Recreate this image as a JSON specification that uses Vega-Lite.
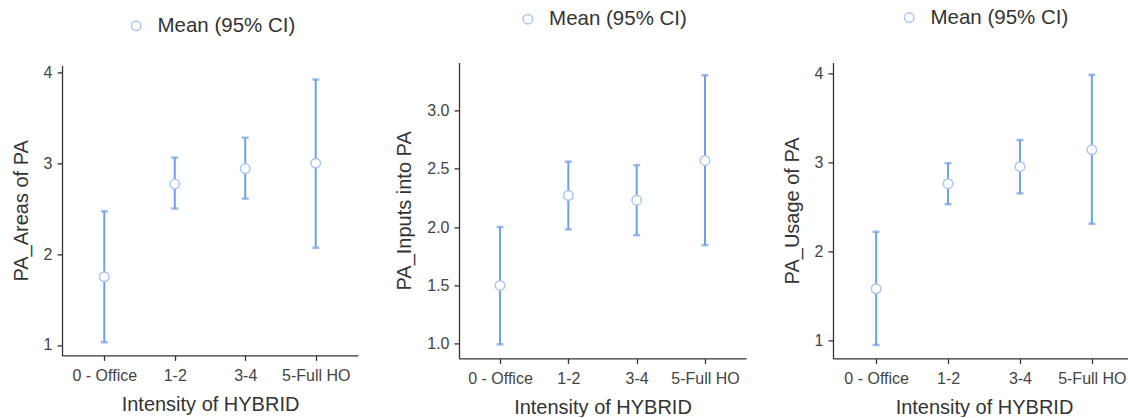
{
  "$schema": "https://vega.github.io/schema/vega-lite/v6.json",
  "background": "white",
  "padding": {"left": 11, "top": 6.4, "right": 0, "bottom": 0},
  "datasets": {
    "areas": [
      {"cat": "0 - Office", "mean": 1.75, "low": 1.03, "high": 2.47},
      {"cat": "1-2", "mean": 2.77, "low": 2.50, "high": 3.06},
      {"cat": "3-4", "mean": 2.94, "low": 2.61, "high": 3.28},
      {"cat": "5-Full HO", "mean": 3.00, "low": 2.07, "high": 3.92}
    ],
    "inputs": [
      {"cat": "0 - Office", "mean": 1.50, "low": 0.995, "high": 2.00},
      {"cat": "1-2", "mean": 2.27, "low": 1.98, "high": 2.56},
      {"cat": "3-4", "mean": 2.23, "low": 1.93, "high": 2.53},
      {"cat": "5-Full HO", "mean": 2.57, "low": 1.845, "high": 3.30}
    ],
    "usage": [
      {"cat": "0 - Office", "mean": 1.58, "low": 0.95, "high": 2.22},
      {"cat": "1-2", "mean": 2.76, "low": 2.53, "high": 2.99},
      {"cat": "3-4", "mean": 2.95, "low": 2.65, "high": 3.25},
      {"cat": "5-Full HO", "mean": 3.14, "low": 2.31, "high": 3.98}
    ]
  },
  "spacing": 36,
  "center": true,
  "hconcat": [
    {
      "width": 296, "height": 290,
      "data": {"name": "areas"},
      "encoding": {
        "x": {"field": "cat", "type": "nominal", "sort": ["0 - Office", "1-2", "3-4", "5-Full HO"], "scale": {"type": "point", "padding": 0.6}, "axis": {"title": "Intensity of HYBRID", "labelAngle": 0}}
      },
      "layer": [
        {"mark": {"type": "rule", "color": "#6fa0e6", "strokeWidth": 2},
         "encoding": {"y": {"field": "low", "type": "quantitative", "title": "PA_Areas of PA", "scale": {"domain": [0.885, 4.075], "nice": false, "zero": false}, "axis": {"values": [1, 2, 3, 4], "format": "d"}}, "y2": {"field": "high"}}},
        {"mark": {"type": "tick", "color": "#6fa0e6", "size": 7, "thickness": 2.5},
         "encoding": {"y": {"field": "low", "type": "quantitative", "title": "PA_Areas of PA"}}},
        {"mark": {"type": "tick", "color": "#6fa0e6", "size": 7, "thickness": 2.5},
         "encoding": {"y": {"field": "high", "type": "quantitative", "title": "PA_Areas of PA"}}},
        {"mark": {"type": "point", "shape": "circle", "filled": false, "fill": "white", "fillOpacity": 1, "opacity": 1, "strokeWidth": 1.5, "size": 90},
         "encoding": {"y": {"field": "mean", "type": "quantitative", "title": "PA_Areas of PA"},
           "stroke": {"datum": "Mean (95% CI)", "type": "nominal", "scale": {"range": ["#a9c6f2"]},
             "legend": {"orient": "none", "legendX": 64, "legendY": -49.8, "title": null}}}}
      ]
    },
    {
      "width": 287, "height": 296,
      "data": {"name": "inputs"},
      "encoding": {
        "x": {"field": "cat", "type": "nominal", "sort": ["0 - Office", "1-2", "3-4", "5-Full HO"], "scale": {"type": "point", "padding": 0.6}, "axis": {"title": "Intensity of HYBRID", "labelAngle": 0}}
      },
      "layer": [
        {"mark": {"type": "rule", "color": "#6fa0e6", "strokeWidth": 2},
         "encoding": {"y": {"field": "low", "type": "quantitative", "title": "PA_Inputs into PA", "scale": {"domain": [0.875, 3.41], "nice": false, "zero": false}, "axis": {"values": [1, 1.5, 2, 2.5, 3], "format": ".1f"}}, "y2": {"field": "high"}}},
        {"mark": {"type": "tick", "color": "#6fa0e6", "size": 7, "thickness": 2.5},
         "encoding": {"y": {"field": "low", "type": "quantitative", "title": "PA_Inputs into PA"}}},
        {"mark": {"type": "tick", "color": "#6fa0e6", "size": 7, "thickness": 2.5},
         "encoding": {"y": {"field": "high", "type": "quantitative", "title": "PA_Inputs into PA"}}},
        {"mark": {"type": "point", "shape": "circle", "filled": false, "fill": "white", "fillOpacity": 1, "opacity": 1, "strokeWidth": 1.5, "size": 90},
         "encoding": {"y": {"field": "mean", "type": "quantitative", "title": "PA_Inputs into PA"},
           "stroke": {"datum": "Mean (95% CI)", "type": "nominal", "scale": {"range": ["#a9c6f2"]},
             "legend": {"orient": "none", "legendX": 58.6, "legendY": -53.5, "title": null}}}}
      ]
    },
    {
      "width": 302, "height": 296,
      "data": {"name": "usage"},
      "encoding": {
        "x": {"field": "cat", "type": "nominal", "sort": ["0 - Office", "1-2", "3-4", "5-Full HO"], "scale": {"type": "point", "padding": 0.6}, "axis": {"title": "Intensity of HYBRID", "labelAngle": 0}}
      },
      "layer": [
        {"mark": {"type": "rule", "color": "#6fa0e6", "strokeWidth": 2},
         "encoding": {"y": {"field": "low", "type": "quantitative", "title": "PA_Usage of PA", "scale": {"domain": [0.80, 4.12], "nice": false, "zero": false}, "axis": {"values": [1, 2, 3, 4], "format": "d"}}, "y2": {"field": "high"}}},
        {"mark": {"type": "tick", "color": "#6fa0e6", "size": 7, "thickness": 2.5},
         "encoding": {"y": {"field": "low", "type": "quantitative", "title": "PA_Usage of PA"}}},
        {"mark": {"type": "tick", "color": "#6fa0e6", "size": 7, "thickness": 2.5},
         "encoding": {"y": {"field": "high", "type": "quantitative", "title": "PA_Usage of PA"}}},
        {"mark": {"type": "point", "shape": "circle", "filled": false, "fill": "white", "fillOpacity": 1, "opacity": 1, "strokeWidth": 1.5, "size": 90},
         "encoding": {"y": {"field": "mean", "type": "quantitative", "title": "PA_Usage of PA"},
           "stroke": {"datum": "Mean (95% CI)", "type": "nominal", "scale": {"range": ["#a9c6f2"]},
             "legend": {"orient": "none", "legendX": 66, "legendY": -55.1, "title": null}}}}
      ]
    }
  ],
  "resolve": {"scale": {"stroke": "independent"}, "legend": {"stroke": "independent"}},
  "config": {
    "view": {"stroke": null},
    "axis": {"grid": false, "domainColor": "#333333", "domainWidth": 1.3, "tickColor": "#333333", "tickWidth": 1.3, "tickSize": 5, "labelFont": "Liberation Sans", "labelFontSize": 16, "labelColor": "#444444", "titleFont": "Liberation Sans", "titleFontSize": 20, "titleFontWeight": "normal", "titleColor": "#333333"},
    "axisX": {"labelPadding": 7, "titlePadding": 11},
    "axisY": {"labelPadding": 5, "titlePadding": 12},
    "legend": {"labelFont": "Liberation Sans", "labelFontSize": 20.5, "labelColor": "#333333", "symbolType": "circle", "symbolSize": 90, "symbolFillColor": "white", "symbolStrokeWidth": 1.5, "labelOffset": 11, "padding": 0}
  }
}
